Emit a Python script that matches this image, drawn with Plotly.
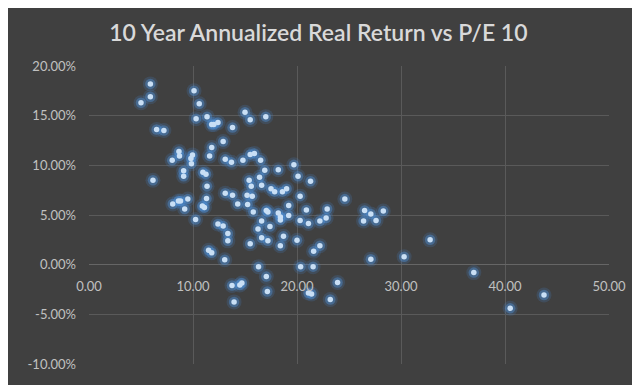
import plotly.graph_objects as go

pe10 = [5.9, 5.0, 5.9, 6.5, 7.2, 6.15, 10.1, 10.6, 10.3, 11.35, 11.8, 12.0, 12.4, 13.8, 12.9,
        11.8, 11.6, 13.1, 13.7, 14.8, 15.0, 15.5, 17.0, 15.5, 15.9, 16.5, 8.65, 8.7, 8.0, 9.95,
        9.8, 9.85, 9.1, 9.1, 10.95, 11.25, 11.35, 11.3, 10.9, 11.1, 9.5, 8.6, 8.8, 8.05, 9.2,
        10.25, 13.1, 13.8, 14.3, 15.25, 15.2, 15.7, 15.8, 15.4, 15.6, 16.4, 16.6, 16.9, 18.2,
        17.5, 17.85, 18.6, 19.0, 19.7, 20.1, 21.3, 20.3, 17.05, 17.2, 19.2, 18.2, 20.9, 22.9,
        19.2, 18.4, 18.4, 16.6, 12.4, 12.9, 13.35, 13.35, 11.5, 11.8, 13.05, 15.5, 16.25, 16.6,
        17.2, 17.4, 18.4, 18.7, 20.0, 22.2, 21.6, 16.3, 17.05, 20.35, 21.55, 23.9, 17.15, 13.75,
        14.5, 14.7, 13.95, 21.1, 21.4, 23.2, 22.8, 22.2, 24.6, 21.1, 20.3, 26.5, 27.1, 28.3,
        26.4, 27.6, 32.8, 27.1, 30.3, 37.0, 43.75, 40.5]
real_return_pct = [18.2, 16.3, 16.9, 13.6, 13.5, 8.5, 17.5, 16.2, 14.7, 14.9, 14.1, 14.1, 14.3, 13.8, 12.4,
                   11.8, 10.95, 10.6, 10.3, 10.5, 15.35, 14.6, 14.9, 11.1, 11.2, 10.5, 11.4, 10.95, 10.5, 11.05,
                   10.7, 10.15, 9.45, 8.9, 9.3, 9.1, 7.9, 6.65, 5.9, 5.75, 6.6, 6.4, 6.4, 6.1, 5.6,
                   4.55, 7.2, 7.0, 6.1, 6.05, 7.0, 6.9, 5.3, 8.5, 7.9, 8.8, 8.0, 9.5, 9.55,
                   7.65, 7.35, 7.35, 7.65, 10.05, 8.9, 8.4, 6.9, 5.45, 5.3, 5.95, 5.2, 5.5, 5.6,
                   4.95, 4.8, 4.5, 4.4, 4.1, 3.9, 3.15, 2.4, 1.45, 1.2, 0.5, 2.1, 3.6, 2.7,
                   2.4, 3.85, 1.9, 2.85, 2.45, 1.9, 1.35, -0.2, -1.2, -0.2, -0.2, -1.8, -2.7, -2.1,
                   -2.05, -1.85, -3.75, -2.85, -2.95, -3.5, 4.7, 4.4, 6.6, 4.15, 4.45, 5.45, 5.1, 5.4,
                   4.4, 4.45, 2.5, 0.55, 0.8, -0.8, -3.05, -4.4]

x_ticks = [0, 10, 20, 30, 40, 50]
y_ticks = [-10, -5, 0, 5, 10, 15, 20]
x_tick_labels = [f"{v:.2f}" for v in x_ticks]
y_tick_labels = [f"{v:.2f}%" for v in y_ticks]
title_text = "10 Year Annualized Real Return vs P/E 10"

BG = "#404040"
GRID = "#5a5a5a"
TXT = "#c0c0c0"
FONT = "Lato, 'Open Sans', sans-serif"

fig = go.Figure()
# glow layers
fig.add_trace(go.Scatter(x=pe10, y=real_return_pct, mode="markers", hoverinfo="skip",
                         marker=dict(size=15, color="rgba(70,140,215,0.18)", line=dict(width=0))))
fig.add_trace(go.Scatter(x=pe10, y=real_return_pct, mode="markers", hoverinfo="skip",
                         marker=dict(size=10.5, color="rgba(80,150,225,0.40)", line=dict(width=0))))
fig.add_trace(go.Scatter(x=pe10, y=real_return_pct, mode="markers",
                         marker=dict(size=5.5, color="#c9dff5", line=dict(width=0))))

fig.update_layout(
    width=640, height=385,
    paper_bgcolor=BG, plot_bgcolor=BG,
    margin=dict(l=81, r=39, t=58, b=29),
    showlegend=False,
    title=dict(text=title_text, x=0.485, xanchor="center", y=0.935, yanchor="middle",
               font=dict(family=FONT, size=23, color="#d9d9d9", weight=600)),
    font=dict(family=FONT, color=TXT, size=13),
    xaxis=dict(range=[0, 50], tickvals=x_ticks, ticktext=x_tick_labels,
               showgrid=True, gridcolor=GRID, gridwidth=1, zeroline=False,
               showline=False, anchor="free", position=1/3, ticks="",
               ticklabelstandoff=12,
               tickfont=dict(size=13, color=TXT)),
    yaxis=dict(range=[-10, 20], tickvals=y_ticks, ticktext=y_tick_labels,
               showgrid=True, gridcolor=GRID, gridwidth=1, zeroline=True,
               zerolinecolor="#666666", zerolinewidth=1,
               showline=False, ticks="", ticklabelstandoff=12,
               tickfont=dict(size=13, color=TXT)),
)

fig.write_html("out.html")
